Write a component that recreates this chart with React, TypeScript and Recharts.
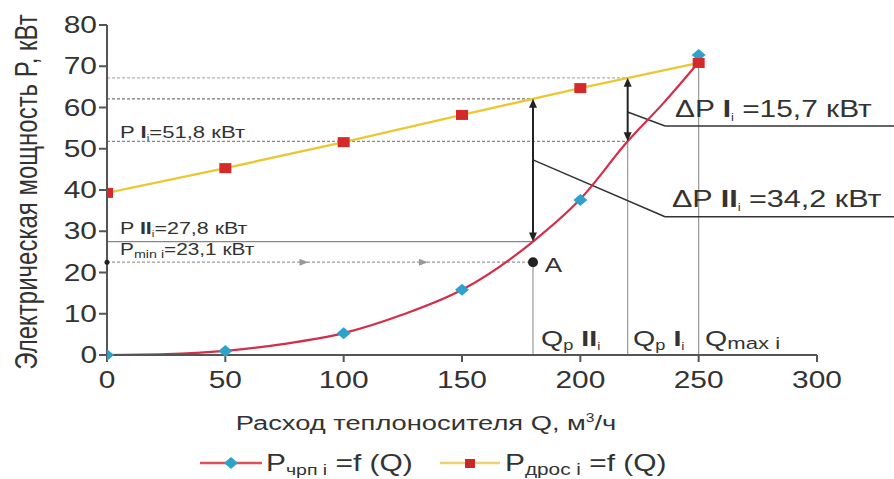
import React from 'react';
import {
  ComposedChart,
  Line,
  Scatter,
  XAxis,
  YAxis,
  ReferenceLine,
  ReferenceDot,
} from 'recharts';

// ---------- data ----------
const qValues = [0, 50, 100, 150, 200, 250];
const pChrp = [0, 1.0, 5.3, 15.8, 37.6, 72.7];
const pDros = [39.3, 45.3, 51.6, 58.2, 64.7, 70.8];
const curveQ = [0, 25, 50, 75, 100, 125, 150, 180, 200, 220, 235, 250];
const curveP = [0, 0.2, 1.0, 2.7, 5.3, 9.8, 15.8, 27.5, 37.8, 51.8, 61.0, 71.0];
const xTicks = [0, 50, 100, 150, 200, 250, 300];
const yTicks = [0, 10, 20, 30, 40, 50, 60, 70, 80];

const qOpt2 = 180;
const qOpt1 = 220;
const qMax = 250;
const pDrosAtQ2 = 62.1;
const pDrosAtQ1 = 67.2;
const pI = 51.8;
const pII = 27.5;
const pMin = 22.5;
const pMaxChrp = 72.7;

const chrpData = qValues.map((q, i) => ({ q, p: pChrp[i] }));
const drosData = qValues.map((q, i) => ({ q, p: pDros[i] }));
const curveData = curveQ.map((q, i) => ({ q, p: curveP[i] }));

// ---------- styles ----------
const SX = 1.3;
const FONT = '"Liberation Sans", Arial, sans-serif';
const TXT = '#333';
const AXIS = '#555';

const XTick = (p: any) => (
  <text
    transform={`translate(${p.x},${p.y + 24}) scale(${SX},1)`}
    textAnchor="middle"
    fontSize={23}
    fontFamily={FONT}
    fill={TXT}
  >
    {p.payload.value}
  </text>
);

const YTick = (p: any) => (
  <text
    transform={`translate(${p.x},${p.y + 8}) scale(${SX},1)`}
    textAnchor="end"
    fontSize={23}
    fontFamily={FONT}
    fill={TXT}
  >
    {p.payload.value}
  </text>
);

const labelShape = (content: React.ReactNode) => (p: any) => (
  <g transform={`translate(${p.cx},${p.cy}) scale(${SX},1)`} fontFamily={FONT} fill={TXT}>
    {content}
  </g>
);

const Diamond = (p: any) => {
  const { cx, cy } = p;
  return (
    <polygon
      points={`${cx},${cy - 6} ${cx + 7},${cy} ${cx},${cy + 6} ${cx - 7},${cy}`}
      fill="#2fa2cc"
    />
  );
};

const RedSquare = (p: any) => (
  <rect key={`sq${p.index}`} x={p.cx - 6} y={p.cy - 5} width={12} height={10} fill="#d42a2a" />
);

const DoubleArrow = (p: any) => {
  const { x1, y1, y2 } = p;
  const top = Math.min(y1, y2);
  const bot = Math.max(y1, y2);
  return (
    <g>
      <line x1={x1} y1={top + 4} x2={x1} y2={bot - 4} stroke="#222" strokeWidth={2} />
      <polygon points={`${x1},${top} ${x1 - 4},${top + 9} ${x1 + 4},${top + 9}`} fill="#222" />
      <polygon points={`${x1},${bot} ${x1 - 4},${bot - 9} ${x1 + 4},${bot - 9}`} fill="#222" />
    </g>
  );
};

const RightArrowHead = (p: any) => (
  <polygon
    points={`${p.cx + 5},${p.cy} ${p.cx - 4},${p.cy - 3.5} ${p.cx - 4},${p.cy + 3.5}`}
    fill="#999"
  />
);

export default function App() {
  return (
    <div style={{ position: 'absolute', left: 0, top: 0, width: 894, height: 479, background: '#fff' }}>
      <ComposedChart
        width={894}
        height={479}
        margin={{ top: 25, right: 77, bottom: 84, left: 0 }}
      >
        <XAxis
          type="number"
          dataKey="q"
          domain={[0, 300]}
          ticks={xTicks}
          allowDataOverflow
          height={40}
          tickSize={7}
          stroke={AXIS}
          strokeWidth={2}
          tick={<XTick />}
          tickLine={{ stroke: AXIS, strokeWidth: 2 }}
        />
        <YAxis
          type="number"
          dataKey="p"
          domain={[0, 80]}
          ticks={yTicks}
          width={107}
          tickSize={8}
          stroke={AXIS}
          strokeWidth={2}
          tick={<YTick />}
          tickLine={{ stroke: AXIS, strokeWidth: 2 }}
        />

        {/* horizontal guide lines */}
        <ReferenceLine segment={[{ x: 0, y: pDrosAtQ1 }, { x: qOpt1, y: pDrosAtQ1 }]} stroke="#b0b0b0" strokeWidth={1.2} strokeDasharray="3 2" ifOverflow="visible" />
        <ReferenceLine segment={[{ x: 0, y: pDrosAtQ2 }, { x: qOpt2, y: pDrosAtQ2 }]} stroke="#777" strokeWidth={1.2} strokeDasharray="3 2" ifOverflow="visible" />
        <ReferenceLine segment={[{ x: 0, y: pI }, { x: qOpt1, y: pI }]} stroke="#888" strokeWidth={1.2} strokeDasharray="3 2" ifOverflow="visible" />
        <ReferenceLine segment={[{ x: 0, y: pII }, { x: qOpt2, y: pII }]} stroke="#888" strokeWidth={1.2} ifOverflow="visible" />
        <ReferenceLine segment={[{ x: 0, y: pMin }, { x: qOpt2, y: pMin }]} stroke="#999" strokeWidth={1.2} strokeDasharray="3 2" ifOverflow="visible" />

        {/* vertical guide lines */}
        <ReferenceLine segment={[{ x: qOpt2, y: 0 }, { x: qOpt2, y: pMin }]} stroke="#999" strokeWidth={1.2} ifOverflow="visible" />
        <ReferenceLine segment={[{ x: qOpt1, y: 0 }, { x: qOpt1, y: pI }]} stroke="#999" strokeWidth={1.2} ifOverflow="visible" />
        <ReferenceLine segment={[{ x: qMax, y: 0 }, { x: qMax, y: pMaxChrp }]} stroke="#999" strokeWidth={1.2} ifOverflow="visible" />

        {/* leader lines */}
        <ReferenceLine segment={[{ x: qOpt1, y: 58.9 }, { x: 235.8, y: 55.5 }]} stroke="#333" strokeWidth={1.5} ifOverflow="visible" />
        <ReferenceLine segment={[{ x: 235.8, y: 55.5 }, { x: 333, y: 55.5 }]} stroke="#333" strokeWidth={1.5} ifOverflow="visible" />
        <ReferenceLine segment={[{ x: qOpt2, y: 47.3 }, { x: 235.8, y: 33.5 }]} stroke="#333" strokeWidth={1.5} ifOverflow="visible" />
        <ReferenceLine segment={[{ x: 235.8, y: 33.5 }, { x: 333, y: 33.5 }]} stroke="#333" strokeWidth={1.5} ifOverflow="visible" />

        {/* series */}
        <Line data={curveData} dataKey="p" type="monotone" stroke="#d42d4a" strokeWidth={2.2} dot={false} activeDot={false} isAnimationActive={false} />
        <Scatter data={chrpData} dataKey="p" shape={Diamond} isAnimationActive={false} />
        <Line data={drosData} dataKey="p" type="linear" stroke="#e8c934" strokeWidth={2.4} dot={RedSquare} activeDot={false} isAnimationActive={false} />

        {/* difference arrows */}
        <ReferenceLine segment={[{ x: qOpt2, y: pDrosAtQ2 }, { x: qOpt2, y: pII }]} shape={DoubleArrow} ifOverflow="visible" />
        <ReferenceLine segment={[{ x: qOpt1, y: pDrosAtQ1 }, { x: qOpt1, y: pI }]} shape={DoubleArrow} ifOverflow="visible" />

        {/* P min markers */}
        <ReferenceDot x={0} y={pMin} r={2.5} fill="#222" stroke="none" ifOverflow="visible" />
        <ReferenceDot x={83} y={pMin} r={1} shape={RightArrowHead} ifOverflow="visible" />
        <ReferenceDot x={133.5} y={pMin} r={1} shape={RightArrowHead} ifOverflow="visible" />
        <ReferenceDot x={qOpt2} y={pMin} r={5} fill="#222" stroke="none" ifOverflow="visible" />

        {/* text annotations */}
        <ReferenceDot x={5.5} y={52.6} r={1} ifOverflow="visible" shape={labelShape(
          <text fontSize={17}>P <tspan fontWeight="bold">I</tspan><tspan fontSize={9} dy={3}>i</tspan><tspan dy={-3}>=51,8 кВт</tspan></text>
        )} />
        <ReferenceDot x={5.5} y={29.3} r={1} ifOverflow="visible" shape={labelShape(
          <text fontSize={16.5}>P <tspan fontWeight="bold">II</tspan><tspan fontSize={9} dy={3}>i</tspan><tspan dy={-3}>=27,8 кВт</tspan></text>
        )} />
        <ReferenceDot x={5.5} y={24.2} r={1} ifOverflow="visible" shape={labelShape(
          <text fontSize={16}>P<tspan fontSize={11} dy={3}>min i</tspan><tspan dy={-3}>=23,1 кВт</tspan></text>
        )} />
        <ReferenceDot x={185} y={20.1} r={1} ifOverflow="visible" shape={labelShape(
          <text fontSize={20}>A</text>
        )} />
        <ReferenceDot x={183.4} y={2.2} r={1} ifOverflow="visible" shape={labelShape(
          <text fontSize={22}>Q<tspan fontSize={14} dy={4}>p</tspan><tspan dy={-4} fontWeight="bold"> II</tspan><tspan fontSize={11} dy={4}>i</tspan></text>
        )} />
        <ReferenceDot x={222.3} y={2.2} r={1} ifOverflow="visible" shape={labelShape(
          <text fontSize={22}>Q<tspan fontSize={14} dy={4}>p</tspan><tspan dy={-4} fontWeight="bold"> I</tspan><tspan fontSize={11} dy={4}>i</tspan></text>
        )} />
        <ReferenceDot x={252.7} y={2.2} r={1} ifOverflow="visible" shape={labelShape(
          <text fontSize={22}>Q<tspan fontSize={17} dy={3}>max i</tspan></text>
        )} />
        <ReferenceDot x={240} y={57.7} r={1} ifOverflow="visible" shape={labelShape(
          <text fontSize={23}>ΔP <tspan fontWeight="bold">I</tspan><tspan fontSize={10} dy={4}>i</tspan><tspan dy={-4}> =15,7 кВт</tspan></text>
        )} />
        <ReferenceDot x={238.7} y={35.9} r={1} ifOverflow="visible" shape={labelShape(
          <text fontSize={23.5}>ΔP <tspan fontWeight="bold">II</tspan><tspan fontSize={10} dy={4}>i</tspan><tspan dy={-4}> =34,2 кВт</tspan></text>
        )} />
      </ComposedChart>

      {/* axis titles and legend */}
      <svg width={894} height={479} style={{ position: 'absolute', left: 0, top: 0, pointerEvents: 'none' }}>
        <text
          transform={`translate(37,192) scale(${SX},1) rotate(-90)`}
          textAnchor="middle"
          fontSize={24}
          fontFamily={FONT}
          fill={TXT}
        >
          Электрическая мощность P, кВт
        </text>
        <text
          transform={`translate(426,430) scale(${SX},1)`}
          textAnchor="middle"
          fontSize={21}
          fontFamily={FONT}
          fill={TXT}
        >
          Расход теплоносителя Q, м<tspan fontSize={12} dy={-8}>3</tspan><tspan dy={8}>/ч</tspan>
        </text>

        {/* legend item 1 */}
        <line x1={200} y1={463} x2={262} y2={463} stroke="#e0505a" strokeWidth={2.5} />
        <polygon points="231,457 238,463 231,469 224,463" fill="#2fa2cc" />
        <text transform={`translate(266,471) scale(${SX},1)`} fontSize={23} fontFamily={FONT} fill={TXT}>
          P<tspan fontSize={15} dy={4}>чрп i</tspan><tspan dy={-4}> =f (Q)</tspan>
        </text>

        {/* legend item 2 */}
        <line x1={440} y1={463} x2={500} y2={463} stroke="#f0d070" strokeWidth={2.5} />
        <rect x={465} y={459} width={10} height={9} fill="#c8282a" />
        <text transform={`translate(505,471) scale(${SX},1)`} fontSize={23} fontFamily={FONT} fill={TXT}>
          P<tspan fontSize={16} dy={4}>дрос i</tspan><tspan dy={-4}> =f (Q)</tspan>
        </text>
      </svg>
    </div>
  );
}
